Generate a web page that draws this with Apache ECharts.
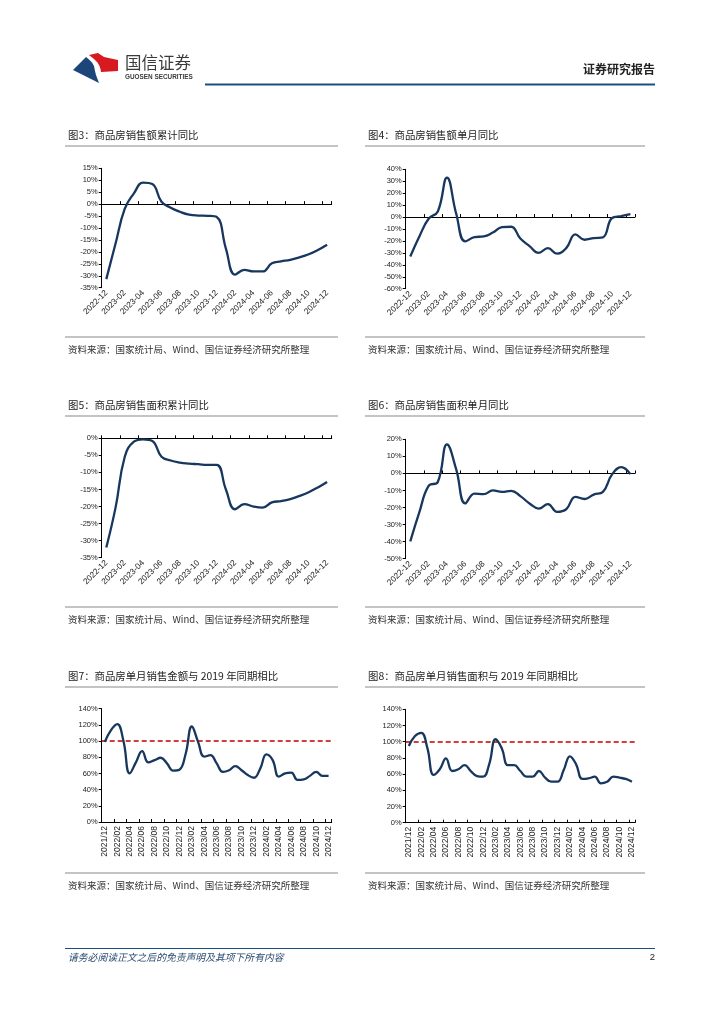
<!DOCTYPE html>
<html>
<head>
<meta charset="utf-8">
<script src="https://cdn.jsdelivr.net/npm/echarts@6/dist/echarts.min.js"></script>
<style>
html,body{margin:0;padding:0;background:#fff;}
#main{width:724px;height:1024px;}
</style>
</head>
<body>
<div id="main"></div>
<script>
// ---------- DATA ----------
var catsA = ['2022-12','2023-01','2023-02','2023-03','2023-04','2023-05','2023-06','2023-07','2023-08','2023-09','2023-10','2023-11','2023-12','2024-01','2024-02','2024-03','2024-04','2024-05','2024-06','2024-07','2024-08','2024-09','2024-10','2024-11','2024-12'];
var catsB = ['2021/12','2022/01','2022/02','2022/03','2022/04','2022/05','2022/06','2022/07','2022/08','2022/09','2022/10','2022/11','2022/12','2023/01','2023/02','2023/03','2023/04','2023/05','2023/06','2023/07','2023/08','2023/09','2023/10','2023/11','2023/12','2024/01','2024/02','2024/03','2024/04','2024/05','2024/06','2024/07','2024/08','2024/09','2024/10','2024/11','2024/12'];

var salesAmtCum = [-31.4,-16.6,-2.0,4.5,9.0,8.4,1.0,-1.5,-3.2,-4.4,-4.8,-4.9,-5.4,-18.6,-29.5,-27.5,-28.2,-28.2,-24.8,-24.0,-23.3,-22.3,-21.0,-19.2,-17.0];
var salesAmtMonthly = [-33,-16,-1.4,4.7,33,3,-20.4,-16.8,-16.2,-13,-8.4,-8.1,-18,-24.3,-30,-26,-30.7,-26,-14.5,-19,-17.6,-17,-0.8,0.8,2.5];
var areaCum = [-32,-20.4,-5.5,-1.0,-0.3,-0.8,-5.4,-6.5,-7.1,-7.4,-7.6,-7.8,-7.8,-15,-20.8,-19.3,-20,-20.3,-18.8,-18.4,-17.8,-16.9,-15.8,-14.4,-12.8];
var areaMonthly = [-39.8,-22.5,-7.3,-5.0,17,2.5,-17.6,-11.8,-12.2,-10,-10.8,-10.2,-13.3,-17.6,-20.6,-18,-22.5,-21,-13.7,-15,-12.4,-10.8,-0.6,3.7,-0.4];
var amtVs2019 = [99,113.6,121,100,60,73.7,87.7,73.7,76.5,79.4,72.4,63.4,64.6,84,118,99,80.7,82.7,72.4,62,64,69,64,58,54.7,66,83.5,76.5,56,60,61,52,52.7,57,62,57,57];
var areaVs2019 = [94.7,107,111,92,59,66,79.4,63.8,66,71,63.8,57.6,56.8,73,103,92,71,71,63.8,56.8,56.8,63.8,55.6,50.6,50.6,65,82,72,54,54.7,56.8,48.6,50.6,56.8,55.6,54,50.6];
var refLine = 100;

var titles = ['图3：商品房销售额累计同比','图4：商品房销售额单月同比','图5：商品房销售面积累计同比','图6：商品房销售面积单月同比','图7：商品房单月销售金额与 2019 年同期相比','图8：商品房单月销售面积与 2019 年同期相比'];
var sourceText = '资料来源：国家统计局、Wind、国信证券经济研究所整理';

// ---------- STYLE / LAYOUT ----------
var LINE_COLOR = '#17375e';
var LABEL_FONT = 'Liberation Sans, Arial, sans-serif';
var CJK = 'Noto Sans CJK SC, sans-serif';

var panels = [
  {grid:{left:101.7, top:168.3, width:230, height:119.4}, y:{min:-35,max:15,interval:5}, cats:catsA, data:salesAmtCum, twoAxis:true},
  {grid:{left:405.7, top:169.3, width:229.3, height:119.4}, y:{min:-60,max:40,interval:10}, cats:catsA, data:salesAmtMonthly, twoAxis:true},
  {grid:{left:101.7, top:438.3, width:230, height:119.4}, y:{min:-35,max:0,interval:5}, cats:catsA, data:areaCum, twoAxis:true},
  {grid:{left:405.7, top:439.3, width:229.3, height:119.4}, y:{min:-50,max:20,interval:10}, cats:catsA, data:areaMonthly, twoAxis:true},
  {grid:{left:101.7, top:708.7, width:230, height:113.3}, y:{min:0,max:140,interval:20}, cats:catsB, data:amtVs2019, twoAxis:false, ref:true},
  {grid:{left:405.7, top:709.3, width:229.3, height:113.4}, y:{min:0,max:140,interval:20}, cats:catsB, data:areaVs2019, twoAxis:false, ref:true}
];

var grids=[], xAxes=[], yAxes=[], series=[], graphics=[];

panels.forEach(function(p, k){
  grids.push(Object.assign({containLabel:false}, p.grid));
  yAxes.push({
    type:'value', gridIndex:k, min:p.y.min, max:p.y.max, interval:p.y.interval,
    axisLine:{show:true, lineStyle:{color:'#000', width:1}},
    axisTick:{show:true, length:3, lineStyle:{color:'#000'}},
    splitLine:{show:false},
    axisLabel:{color:'#222', fontSize:7.5, fontFamily:LABEL_FONT, margin:4, formatter:'{value}%'}
  });
  var xi = xAxes.length;
  if (p.twoAxis) {
    xAxes.push({
      type:'category', gridIndex:k, data:p.cats, boundaryGap:true, position:'bottom',
      axisLine:{show:false, onZero:false}, axisTick:{show:false},
      axisLabel:{interval:1, rotate:45, fontSize:8.3, fontFamily:LABEL_FONT, color:'#222', margin:4}
    });
    xAxes.push({
      type:'category', gridIndex:k, data:p.cats, boundaryGap:true, position:'bottom',
      axisLine:{show:true, onZero:true, lineStyle:{color:'#000', width:1}},
      axisTick:{show:true, inside:true, interval:1, length:3, lineStyle:{color:'#000'}},
      axisLabel:{show:false}
    });
  } else {
    xAxes.push({
      type:'category', gridIndex:k, data:p.cats, boundaryGap:true, position:'bottom',
      axisLine:{show:true, onZero:false, lineStyle:{color:'#000', width:1}},
      axisTick:{show:true, inside:true, interval:1, length:3, lineStyle:{color:'#000'}},
      axisLabel:{interval:1, rotate:90, fontSize:8.5, fontFamily:LABEL_FONT, color:'#222', margin:4}
    });
  }
  var s = {
    type:'line', xAxisIndex:xi, yAxisIndex:k, data:p.data, smooth:0.45,
    symbol:'none', lineStyle:{color:LINE_COLOR, width:2.3}, z:5
  };
  if (p.ref) {
    s.markLine = {
      silent:true, symbol:'none', label:{show:false},
      lineStyle:{color:'#c00000', type:[5,3], width:1.6},
      data:[{yAxis:refLine}]
    };
  }
  series.push(s);
});

// ---------- PAGE DECORATION ----------
function txt(x,y,t,opt){
  opt = opt||{};
  graphics.push({type:'text', x:x, y:y, z:10, style:{
    text:t, x:0, y:0, fill:opt.color||'#222', font:(opt.style||'normal')+' '+(opt.weight||'normal')+' '+(opt.size||10)+'px '+(opt.family||CJK),
    textAlign:opt.align||'left', textVerticalAlign:'middle'
  }});
}
function hline(x1,x2,y,color,w){
  graphics.push({type:'line', z:10, shape:{x1:x1,y1:y,x2:x2,y2:y}, style:{stroke:color, lineWidth:w}});
}

// header logo
graphics.push({type:'polygon', z:10, shape:{points:[[73,70],[86,57],[89,59.5],[92,62.5],[94,66],[95,71],[96,75],[97.5,79],[99,83]]}, style:{fill:'#1c4679'}});
graphics.push({type:'polygon', z:10, shape:{points:[[89,55],[98,53],[104,57],[118,60],[118,71],[101,72],[100.5,69],[99.5,66],[97.5,62.5],[94,59]]}, style:{fill:'#d71920'}});
txt(125,63,'国信证券',{size:16.5, color:'#3a3a3a'});
txt(125,77.5,'GUOSEN SECURITIES',{size:6.4, weight:'bold', color:'#3a3a3a', family:'Liberation Sans, Arial, sans-serif'});
txt(655,69,'证券研究报告',{size:12, weight:'bold', color:'#222', align:'right'});
hline(205,655,84.5,'#1b4f82',2);

// titles, lines, sources
var colX = [68,368];
var rowTitleY = [135,405,676];
var rowSrcY = [349,619,885];
for (var r=0;r<3;r++){
  for (var c=0;c<2;c++){
    var idx = r*2+c;
    var x0 = c===0?65:365, x1 = c===0?338:645;
    txt(colX[c], rowTitleY[r], titles[idx], {size:10.4, color:'#222'});
    hline(x0, x1, rowTitleY[r]+11, '#8a8a8a', 1.2);
    hline(x0, x1, rowSrcY[r]-12, '#8a8a8a', 1.2);
    txt(colX[c], rowSrcY[r], sourceText, {size:9.5, color:'#333'});
  }
}

// footer
hline(65,655,948.5,'#1b4f82',1);
txt(68,957,'请务必阅读正文之后的免责声明及其项下所有内容',{size:9.8, style:'italic', color:'#2a4a70'});
txt(655,957,'2',{size:9.5, color:'#222', align:'right', family:'Liberation Sans, Arial, sans-serif'});

var chart = echarts.init(document.getElementById('main'), null, {renderer:'canvas'});
chart.setOption({
  animation:false,
  backgroundColor:'#fff',
  grid:grids, xAxis:xAxes, yAxis:yAxes, series:series, graphic:graphics
});
</script>
</body>
</html>
